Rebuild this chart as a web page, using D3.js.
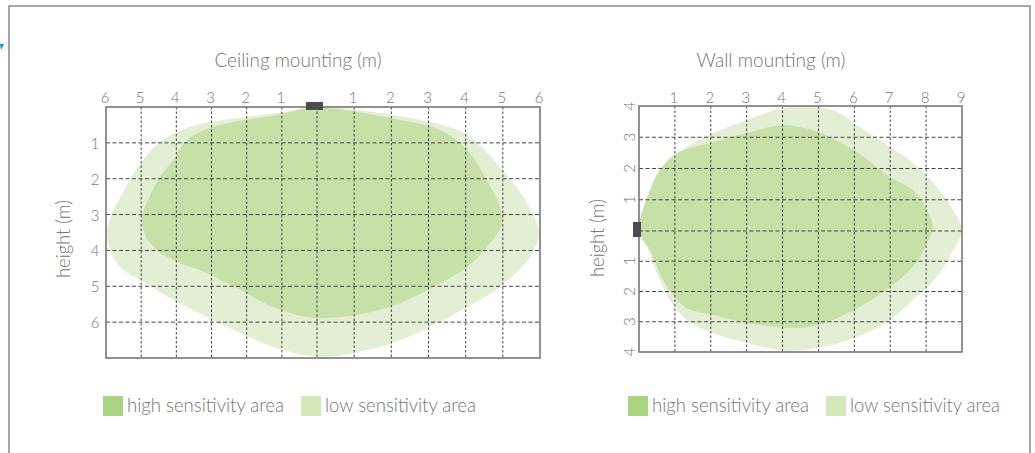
<!DOCTYPE html>
<html>
<head>
<meta charset="utf-8">
<script src="https://cdn.jsdelivr.net/npm/d3@7/dist/d3.min.js"></script>
<style>
	body { margin: 0; background: #fff; }
	svg { display: block; }
	text { font-family: 'Lato Light', Lato, 'Open Sans', sans-serif; font-weight: 300; fill: #757575; }
</style>
</head>
<body>
<svg id="chart" width="1035" height="453"></svg>
<script>
// ceiling mounting: x = horizontal distance (m, left negative), y = depth below sensor (m)
const ceilingLow = [
	[0, 0], [3.04, 0.42], [4.04, 0.78], [4.92, 1.67], [5.65, 2.68], [5.97, 3.51],
	[5.73, 4.18], [4.92, 5.02], [4.04, 5.58], [3.04, 6.13], [2.04, 6.58], [0.97, 6.86],
	[0.08, 6.97], [-1.25, 6.69], [-2.19, 6.30], [-3.13, 5.86], [-4.09, 5.38], [-5.03, 4.82],
	[-5.60, 4.46], [-5.97, 3.63], [-5.83, 2.98], [-5.55, 2.45], [-5.15, 1.75],
	[-4.55, 1.05], [-3.60, 0.55], [-2.20, 0.30], [-1.11, 0.17]
];
const ceilingHigh = [
	[0, 0.02], [2.23, 0.36], [3.31, 0.64], [4.04, 1.20], [4.57, 2.04], [4.92, 2.79],
	[4.98, 3.23], [4.73, 3.71], [4.04, 4.46], [3.12, 5.02], [2.23, 5.47], [1.35, 5.74],
	[0.43, 5.88], [-0.28, 5.86], [-1.25, 5.58], [-2.19, 5.10], [-3.13, 4.63], [-4.09, 4.27],
	[-4.75, 3.79], [-4.98, 3.23], [-4.95, 2.96], [-4.52, 2.04], [-4.09, 1.48], [-3.70, 0.92],
	[-2.96, 0.56], [-1.14, 0.22]
];
// wall mounting: x = distance from wall (m), y = height relative to sensor (m)
const wallLow = [
	[0, 0], [0.22, 0.77], [0.50, 1.54], [0.86, 2.18], [1.34, 2.69], [2.06, 3.14],
	[3.01, 3.55], [4.01, 3.94], [4.99, 3.97], [5.60, 3.78], [5.99, 3.46], [6.71, 2.91],
	[7.63, 2.18], [8.30, 1.41], [8.75, 0.67], [9.0, 0], [8.75, -0.63], [8.30, -1.52],
	[7.63, -2.28], [6.99, -2.94], [5.99, -3.54], [4.99, -3.87], [4.01, -3.95], [3.01, -3.70],
	[2.06, -3.37], [1.34, -2.94], [0.86, -2.28], [0.50, -1.39], [0.22, -0.53]
];
const wallHigh = [
	[0, 0], [0.31, 1.31], [0.58, 1.95], [1.06, 2.50], [1.98, 2.82], [3.01, 3.14],
	[4.01, 3.39], [4.48, 3.33], [4.99, 3.17], [5.99, 2.59], [6.99, 1.73], [7.63, 1.31],
	[8.02, 0.67], [8.19, 0.13], [8.02, -0.40], [7.63, -1.19], [6.99, -1.85], [5.99, -2.61],
	[4.99, -3.11], [4.29, -3.21], [3.01, -3.04], [2.06, -2.78], [1.34, -2.55], [1.06, -2.28],
	[0.67, -1.62], [0.31, -0.63]
];

const ceilingXTicks = [-6, -5, -4, -3, -2, -1, 1, 2, 3, 4, 5, 6];
const ceilingXGrid = [-5, -4, -3, -2, -1, 0, 1, 2, 3, 4, 5];
const ceilingYTicks = [1, 2, 3, 4, 5, 6];
const wallXTicks = [1, 2, 3, 4, 5, 6, 7, 8, 9];
const wallXGrid = [1, 2, 3, 4, 5, 6, 7, 8];
const wallYTicks = [4, 3, 2, 1, -1, -2, -3, -4];
const wallYGrid = [3, 2, 1, 0, -1, -2, -3];

const legendItems = ['high sensitivity area', 'low sensitivity area'];
const legendColors = ['#a8d480', '#d3e8b8'];
const highFill = '#c6e0a7';
const lowFill = '#e2efd5';
const gridColor = '#444';
const frameColor = '#777';

let svg = d3.select('#chart');

// outer frame and small blue corner mark
svg.append('rect')
	.attr('x', 9).attr('y', 6).attr('width', 1021).attr('height', 470)
	.attr('fill', 'none').attr('stroke', '#8a8a8a').attr('stroke-width', 1.5);
svg.append('path')
	.attr('d', 'M0,44 L4,44 L1,50 Z')
	.attr('fill', '#1a8fc0');

function drawArea(g, pts, x, y, fill){
	let line = d3.line()
		.x(d => x(d[0]))
		.y(d => y(d[1]))
		.curve(d3.curveCatmullRomClosed.alpha(0.5));
	g.append('path').attr('d', line(pts)).attr('fill', fill);
}

function drawGrid(g, x, y, xs, ys){
	let x0 = x.range()[0], x1 = x.range()[x.range().length-1];
	let y0 = y.range()[0], y1 = y.range()[y.range().length-1];
	g.selectAll(null).data(xs).enter().append('line')
		.attr('x1', d => x(d)).attr('x2', d => x(d))
		.attr('y1', y0).attr('y2', y1)
		.attr('stroke', gridColor).attr('stroke-width', 1)
		.attr('stroke-dasharray', '2.5,2');
	g.selectAll(null).data(ys).enter().append('line')
		.attr('x1', x0).attr('x2', x1)
		.attr('y1', d => y(d)).attr('y2', d => y(d))
		.attr('stroke', gridColor).attr('stroke-width', 1)
		.attr('stroke-dasharray', '4,2.5');
	g.append('rect')
		.attr('x', x0).attr('y', y0)
		.attr('width', x1 - x0).attr('height', y1 - y0)
		.attr('fill', 'none').attr('stroke', frameColor).attr('stroke-width', 1.6);
}

function drawTitle(g, txt, cx, len){
	g.append('text')
		.attr('x', cx - len/2).attr('y', 67)
		.attr('font-size', '20px')
		.attr('textLength', len).attr('lengthAdjust', 'spacingAndGlyphs')
		.text(txt);
}

function drawLegend(g, x0, x1, len){
	let xs = [x0, x1];
	for(let i=0; i<legendItems.length; i++){
		g.append('rect')
			.attr('x', xs[i]).attr('y', 396)
			.attr('width', 20).attr('height', 20)
			.attr('fill', legendColors[i]);
		g.append('text')
			.attr('x', xs[i] + 24).attr('y', 412)
			.attr('font-size', '19px')
			.attr('textLength', len[i]).attr('lengthAdjust', 'spacingAndGlyphs')
			.text(legendItems[i]);
	}
}

// ---- ceiling mounting ----
let cg = svg.append('g');
let cx = d3.scaleLinear().domain([-6, 0, 6]).range([106, 317, 540]);
let cy = d3.scaleLinear().domain([0, 7]).range([107, 358]);

drawArea(cg, ceilingLow, cx, cy, lowFill);
drawArea(cg, ceilingHigh, cx, cy, highFill);
drawGrid(cg, cx, cy, ceilingXGrid, ceilingYTicks);

cg.selectAll(null).data(ceilingXTicks).enter().append('text')
	.attr('x', d => cx(d) - 1).attr('y', 103)
	.attr('text-anchor', 'middle').attr('font-size', '15px')
	.text(d => Math.abs(d));
cg.selectAll(null).data(ceilingYTicks).enter().append('text')
	.attr('x', 95).attr('y', d => cy(d))
	.attr('text-anchor', 'middle').attr('dominant-baseline', 'central')
	.attr('font-size', '15px')
	.text(d => d);
cg.append('text')
	.attr('transform', 'translate(70,239) rotate(-90)')
	.attr('text-anchor', 'middle').attr('font-size', '19px')
	.attr('textLength', 78).attr('lengthAdjust', 'spacingAndGlyphs')
	.text('height (m)');
cg.append('rect')
	.attr('x', cx(0) - 11).attr('y', 102)
	.attr('width', 17).attr('height', 8)
	.attr('fill', '#4b4d50');
drawTitle(cg, 'Ceiling mounting (m)', 298, 167);
drawLegend(cg, 103, 301, [157, 151]);

// ---- wall mounting ----
let wg = svg.append('g');
let wx = d3.scaleLinear().domain([0, 9]).range([639, 962]);
let wy = d3.scaleLinear().domain([4, 0, -4]).range([106, 231, 352]);

drawArea(wg, wallLow, wx, wy, lowFill);
drawArea(wg, wallHigh, wx, wy, highFill);
drawGrid(wg, wx, wy, wallXGrid, wallYGrid);

wg.selectAll(null).data(wallXTicks).enter().append('text')
	.attr('x', d => wx(d) - 1).attr('y', 103)
	.attr('text-anchor', 'middle').attr('font-size', '15px')
	.text(d => d);
wg.selectAll(null).data(wallYTicks).enter().append('text')
	.attr('transform', d => 'translate(629,' + wy(d) + ') rotate(-90)')
	.attr('text-anchor', 'middle').attr('dominant-baseline', 'central')
	.attr('font-size', '15px')
	.text(d => Math.abs(d));
wg.append('text')
	.attr('transform', 'translate(604,238) rotate(-90)')
	.attr('text-anchor', 'middle').attr('font-size', '19px')
	.attr('textLength', 78).attr('lengthAdjust', 'spacingAndGlyphs')
	.text('height (m)');
wg.append('rect')
	.attr('x', 633).attr('y', wy(0) - 9)
	.attr('width', 8).attr('height', 15)
	.attr('fill', '#4b4d50');
drawTitle(wg, 'Wall mounting (m)', 771, 149);
drawLegend(wg, 628, 826, [157, 150]);
</script>
</body>
</html>
